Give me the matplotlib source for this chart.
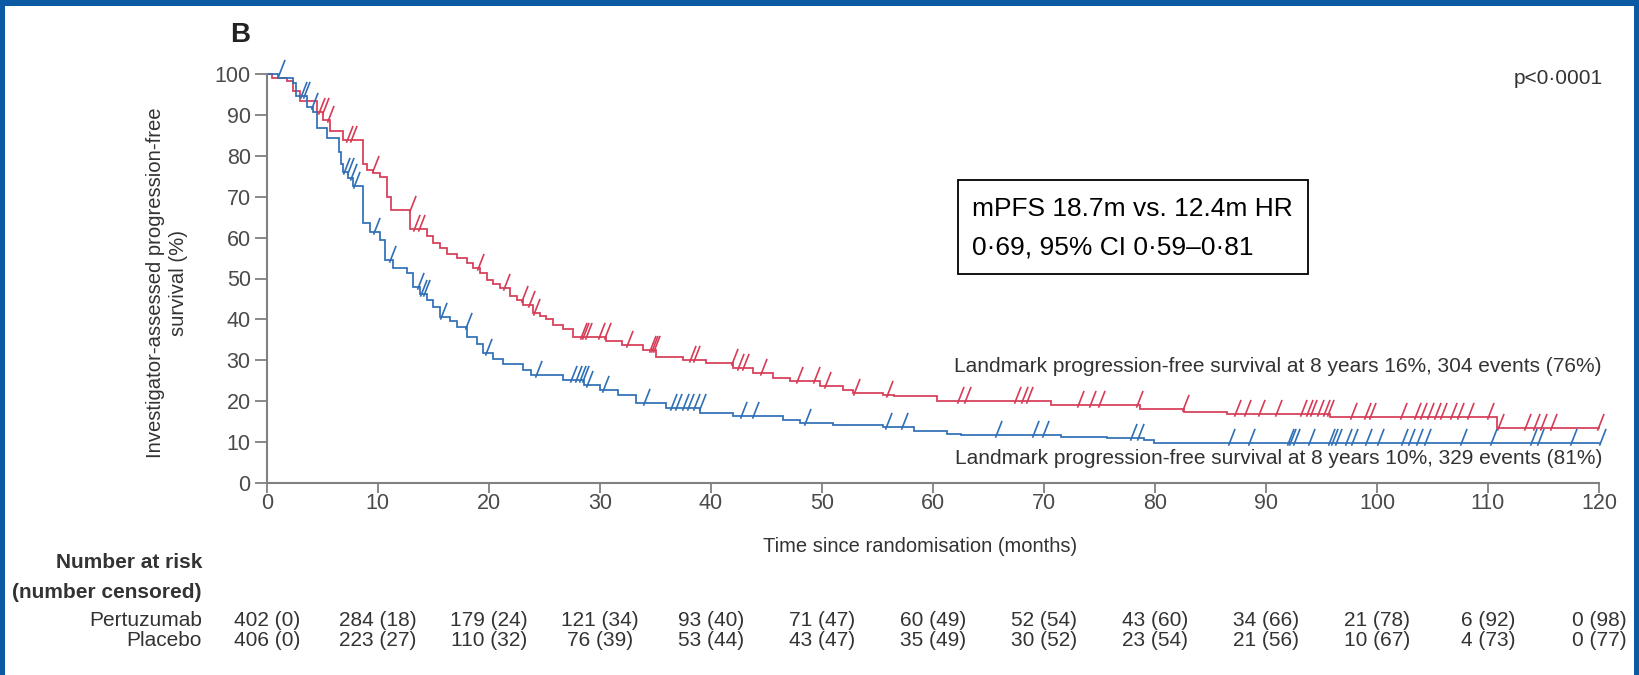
import numpy as np
import matplotlib
matplotlib.use("Agg")
import matplotlib.pyplot as plt
from matplotlib.path import Path
from matplotlib.patches import Rectangle
import matplotlib.transforms as mtransforms

# ---------------- data ----------------
follow_up_end = 120

pertuzumab_t = [0, 0.5, 1.8, 2.4, 3.0, 4.5, 5.1, 5.7, 6.9, 8.7, 9.0, 9.6, 10.2, 10.8, 11.2,
                12.9, 14.4, 15.0, 15.6, 16.2, 17.1, 18.0, 18.6, 19.2, 19.8, 20.4, 21.0, 21.9,
                22.5, 23.1, 24.0, 24.6, 25.2, 25.8, 26.7, 27.6, 30.6, 32.0, 33.9, 35.1, 37.5,
                39.6, 42.0, 43.8, 45.6, 47.1, 49.8, 51.9, 52.8, 55.5, 56.5, 60.4, 70.6, 78.7,
                82.6, 86.5, 95.8, 110.8]
pertuzumab_s = [100, 99.0, 98.2, 95.8, 93.3, 90.8, 88.7, 86.0, 83.9, 77.9, 76.6, 75.7, 74.8, 70.0, 66.8,
                62.0, 60.3, 58.6, 57.4, 56.0, 54.9, 53.7, 52.5, 51.3, 49.6, 48.6, 47.6, 45.8,
                44.8, 43.6, 41.6, 40.8, 40.0, 38.6, 37.6, 35.8, 34.8, 33.8, 32.4, 30.9, 30.1,
                29.3, 28.1, 26.8, 25.6, 25.0, 23.6, 22.8, 22.1, 21.6, 21.2, 20.1, 19.0, 18.0,
                17.4, 16.8, 16.2, 13.5]
pertuzumab_censored = [4.6, 5.0, 5.4, 7.1, 7.5, 9.5, 12.8, 13.2, 13.6, 18.9, 21.3, 22.9, 23.5, 24.0,
                       28.2, 28.4, 28.7, 29.8, 30.4, 32.4, 34.4, 34.6, 34.8, 38.0, 38.4, 41.8, 42.4,
                       42.8, 44.4, 47.7, 49.2, 50.2, 52.8, 55.8, 62.2, 62.8, 67.3, 67.9, 68.4, 73.0,
                       74.1, 74.9, 78.3, 82.4, 87.1, 88.0, 89.3, 90.8, 93.1, 93.6, 94.0, 94.6, 95.1,
                       95.5, 97.6, 98.8, 99.3, 102.1, 103.3, 103.9, 104.5, 105.1, 105.7, 106.6,
                       107.2, 108.1, 109.9, 110.8, 113.2, 114.1, 114.7, 115.6, 119.8]

placebo_t = [0, 1.05, 2.4, 2.6, 3.6, 4.2, 4.5, 5.4, 6.5, 6.7, 6.9, 7.3, 7.8, 8.7, 9.3, 10.2, 10.7,
             11.4, 12.6, 13.2, 13.8, 14.4, 15.0, 15.6, 16.5, 17.1, 18.0, 18.9, 19.5, 20.4, 21.3,
             23.1, 23.8, 26.7, 28.6, 30.0, 31.6, 33.3, 36.0, 39.0, 42.0, 46.5, 48.0, 51.0, 55.5,
             58.3, 61.3, 62.5, 71.5, 75.7, 79.0, 79.9]
placebo_s = [100, 98.9, 97.7, 94.5, 92.0, 90.8, 86.7, 84.3, 81.0, 78.0, 76.1, 74.5, 72.5, 63.5, 61.4,
             59.4, 54.5, 52.5, 51.3, 47.8, 46.2, 44.7, 43.1, 40.7, 39.5, 38.2, 35.8, 34.1, 31.7,
             30.3, 29.0, 27.6, 26.5, 25.3, 24.0, 22.8, 21.4, 19.6, 18.3, 17.1, 16.4, 15.4, 14.6,
             14.2, 13.6, 12.8, 12.1, 11.7, 11.3, 10.9, 10.5, 9.9]
placebo_censored = [1.0, 3.0, 3.3, 4.0, 6.9, 7.2, 7.5, 7.8, 9.6, 11.0, 13.5, 13.8, 14.1, 15.6, 17.9,
                    19.7, 24.2, 27.3, 27.8, 28.1, 28.4, 28.8, 30.2, 33.9, 36.3, 36.8, 37.4, 37.9,
                    38.4, 38.9, 42.6, 43.7, 48.4, 55.7, 57.1, 65.6, 68.9, 69.8, 77.8, 78.4, 86.6,
                    88.4, 91.9, 92.1, 92.4, 93.8, 95.6, 95.9, 96.2, 97.1, 97.7, 98.9, 100.0, 102.2,
                    102.8, 103.5, 104.2, 107.5, 110.2, 113.8, 114.4, 117.4, 120.0]

risk_times = [0, 10, 20, 30, 40, 50, 60, 70, 80, 90, 100, 110, 120]
pertuzumab_risk = ["402 (0)", "284 (18)", "179 (24)", "121 (34)", "93 (40)", "71 (47)", "60 (49)",
                   "52 (54)", "43 (60)", "34 (66)", "21 (78)", "6 (92)", "0 (98)"]
placebo_risk = ["406 (0)", "223 (27)", "110 (32)", "76 (39)", "53 (44)", "43 (47)", "35 (49)",
                "30 (52)", "23 (54)", "21 (56)", "10 (67)", "4 (73)", "0 (77)"]

x_ticks = list(range(0, 121, 10))
y_ticks = list(range(0, 101, 10))

panel_label = "B"
p_text = "p<0·0001"
box_lines = ["mPFS 18.7m vs. 12.4m HR", "0·69, 95% CI 0·59–0·81"]
landmark_pert = "Landmark progression-free survival at 8 years 16%, 304 events (76%)"
landmark_plac = "Landmark progression-free survival at 8 years 10%, 329 events (81%)"
xlabel = "Time since randomisation (months)"
ylabel = "Investigator-assessed progression-free\nsurvival (%)"

# ---------------- style ----------------
plt.rcParams['font.family'] = ['Liberation Sans', 'DejaVu Sans']
RED = '#d63c56'
BLUE = '#2f6fb6'
TXT = '#333333'
TICKTXT = '#4a4a4a'
AXC = '#808080'
BORDER = '#0b5aa3'

W, H = 1639, 675
fig = plt.figure(figsize=(W / 100, H / 100), dpi=100)

def fx(x):
    return x / W

def fy(y):
    return 1 - y / H

x0, x1 = 266.7, 1599.0
y_top, y_bot = 74.0, 483.0
ax = fig.add_axes([fx(x0), fy(y_bot), fx(x1) - fx(x0), fy(y_top) - fy(y_bot)])
ax.set_xlim(0, 120)
ax.set_ylim(0, 100)
for s in ['top', 'right']:
    ax.spines[s].set_visible(False)
for s in ['left', 'bottom']:
    ax.spines[s].set_color(AXC)
    ax.spines[s].set_linewidth(1.5)
ax.set_xticks(x_ticks)
ax.set_yticks(y_ticks)
ax.tick_params(axis='x', direction='out', length=7, width=1.3, color=AXC, pad=0,
               labelsize=15.5, labelcolor=TICKTXT)
ax.tick_params(axis='y', direction='out', length=8.5, width=1.3, color=AXC, pad=3,
               labelsize=15.5, labelcolor=TICKTXT)
ax.patch.set_alpha(0)

censor_marker = Path([(0.0, -0.15), (0.45, 1.0)], [Path.MOVETO, Path.LINETO])

def draw_km(t, s, cens, color):
    t_full = np.append(np.asarray(t, float), follow_up_end)
    s_full = np.append(np.asarray(s, float), s[-1])
    ax.step(t_full, s_full, where='post', color=color, lw=1.25, clip_on=False,
            solid_joinstyle='miter')
    c = np.asarray(cens, float)
    idx = np.searchsorted(np.asarray(t, float), c, side='right') - 1
    cy = np.asarray(s, float)[idx]
    ax.plot(c, cy, linestyle='none', marker=censor_marker, markersize=21,
            markeredgecolor=color, markeredgewidth=1.2, clip_on=False)

draw_km(pertuzumab_t, pertuzumab_s, pertuzumab_censored, RED)
draw_km(placebo_t, placebo_s, placebo_censored, BLUE)

# ---------------- texts ----------------
fig.text(fx(240), fy(35), panel_label, fontsize=20, fontweight='bold', color='#222222',
         ha='center', va='center')
fig.text(fx(1603), fy(79), p_text, fontsize=15, color=TXT, ha='right', va='center')

fig.patches.append(Rectangle((fx(958), fy(274)), fx(1308) - fx(958), fy(180) - fy(274),
                             transform=fig.transFigure, fill=False, edgecolor='black', lw=1.3))
fig.text(fx(972), fy(209), box_lines[0], fontsize=19, color='black', ha='left', va='center')
fig.text(fx(972), fy(247), box_lines[1], fontsize=19, color='black', ha='left', va='center')

fig.text(fx(1602), fy(366), landmark_pert, fontsize=15, color=TXT, ha='right', va='center')
fig.text(fx(1602), fy(459), landmark_plac, fontsize=15, color=TXT, ha='right', va='center')

fig.text(fx(920), fy(546), xlabel, fontsize=14.5, color=TXT, ha='center', va='center')
fig.text(fx(167), fy(283), ylabel, fontsize=14.6, color=TXT, ha='center', va='center',
         rotation=90, multialignment='center', linespacing=1.3)

# number at risk table
fig.text(fx(202), fy(563), "Number at risk", fontsize=15, fontweight='bold', color=TXT,
         ha='right', va='center')
fig.text(fx(202), fy(593), "(number censored)", fontsize=15, fontweight='bold', color=TXT,
         ha='right', va='center')
fig.text(fx(202), fy(620), "Pertuzumab", fontsize=15, color=TXT, ha='right', va='center')
fig.text(fx(202), fy(641), "Placebo", fontsize=15, color=TXT, ha='right', va='center')
trans = mtransforms.blended_transform_factory(ax.transData, fig.transFigure)
for tm, a, b in zip(risk_times, pertuzumab_risk, placebo_risk):
    ax.text(tm, fy(620), a, transform=trans, fontsize=15, color=TXT, ha='center', va='center')
    ax.text(tm, fy(641), b, transform=trans, fontsize=15, color=TXT, ha='center', va='center')

# blue frame
fig.patches.append(Rectangle((0, fy(6)), 1, fy(0) - fy(6), transform=fig.transFigure,
                             color=BORDER, lw=0))
fig.patches.append(Rectangle((0, 0), fx(5), 1, transform=fig.transFigure, color=BORDER, lw=0))
fig.patches.append(Rectangle((1 - fx(5), 0), fx(5), 1, transform=fig.transFigure,
                             color=BORDER, lw=0))

fig.savefig("out.png", dpi=100)
